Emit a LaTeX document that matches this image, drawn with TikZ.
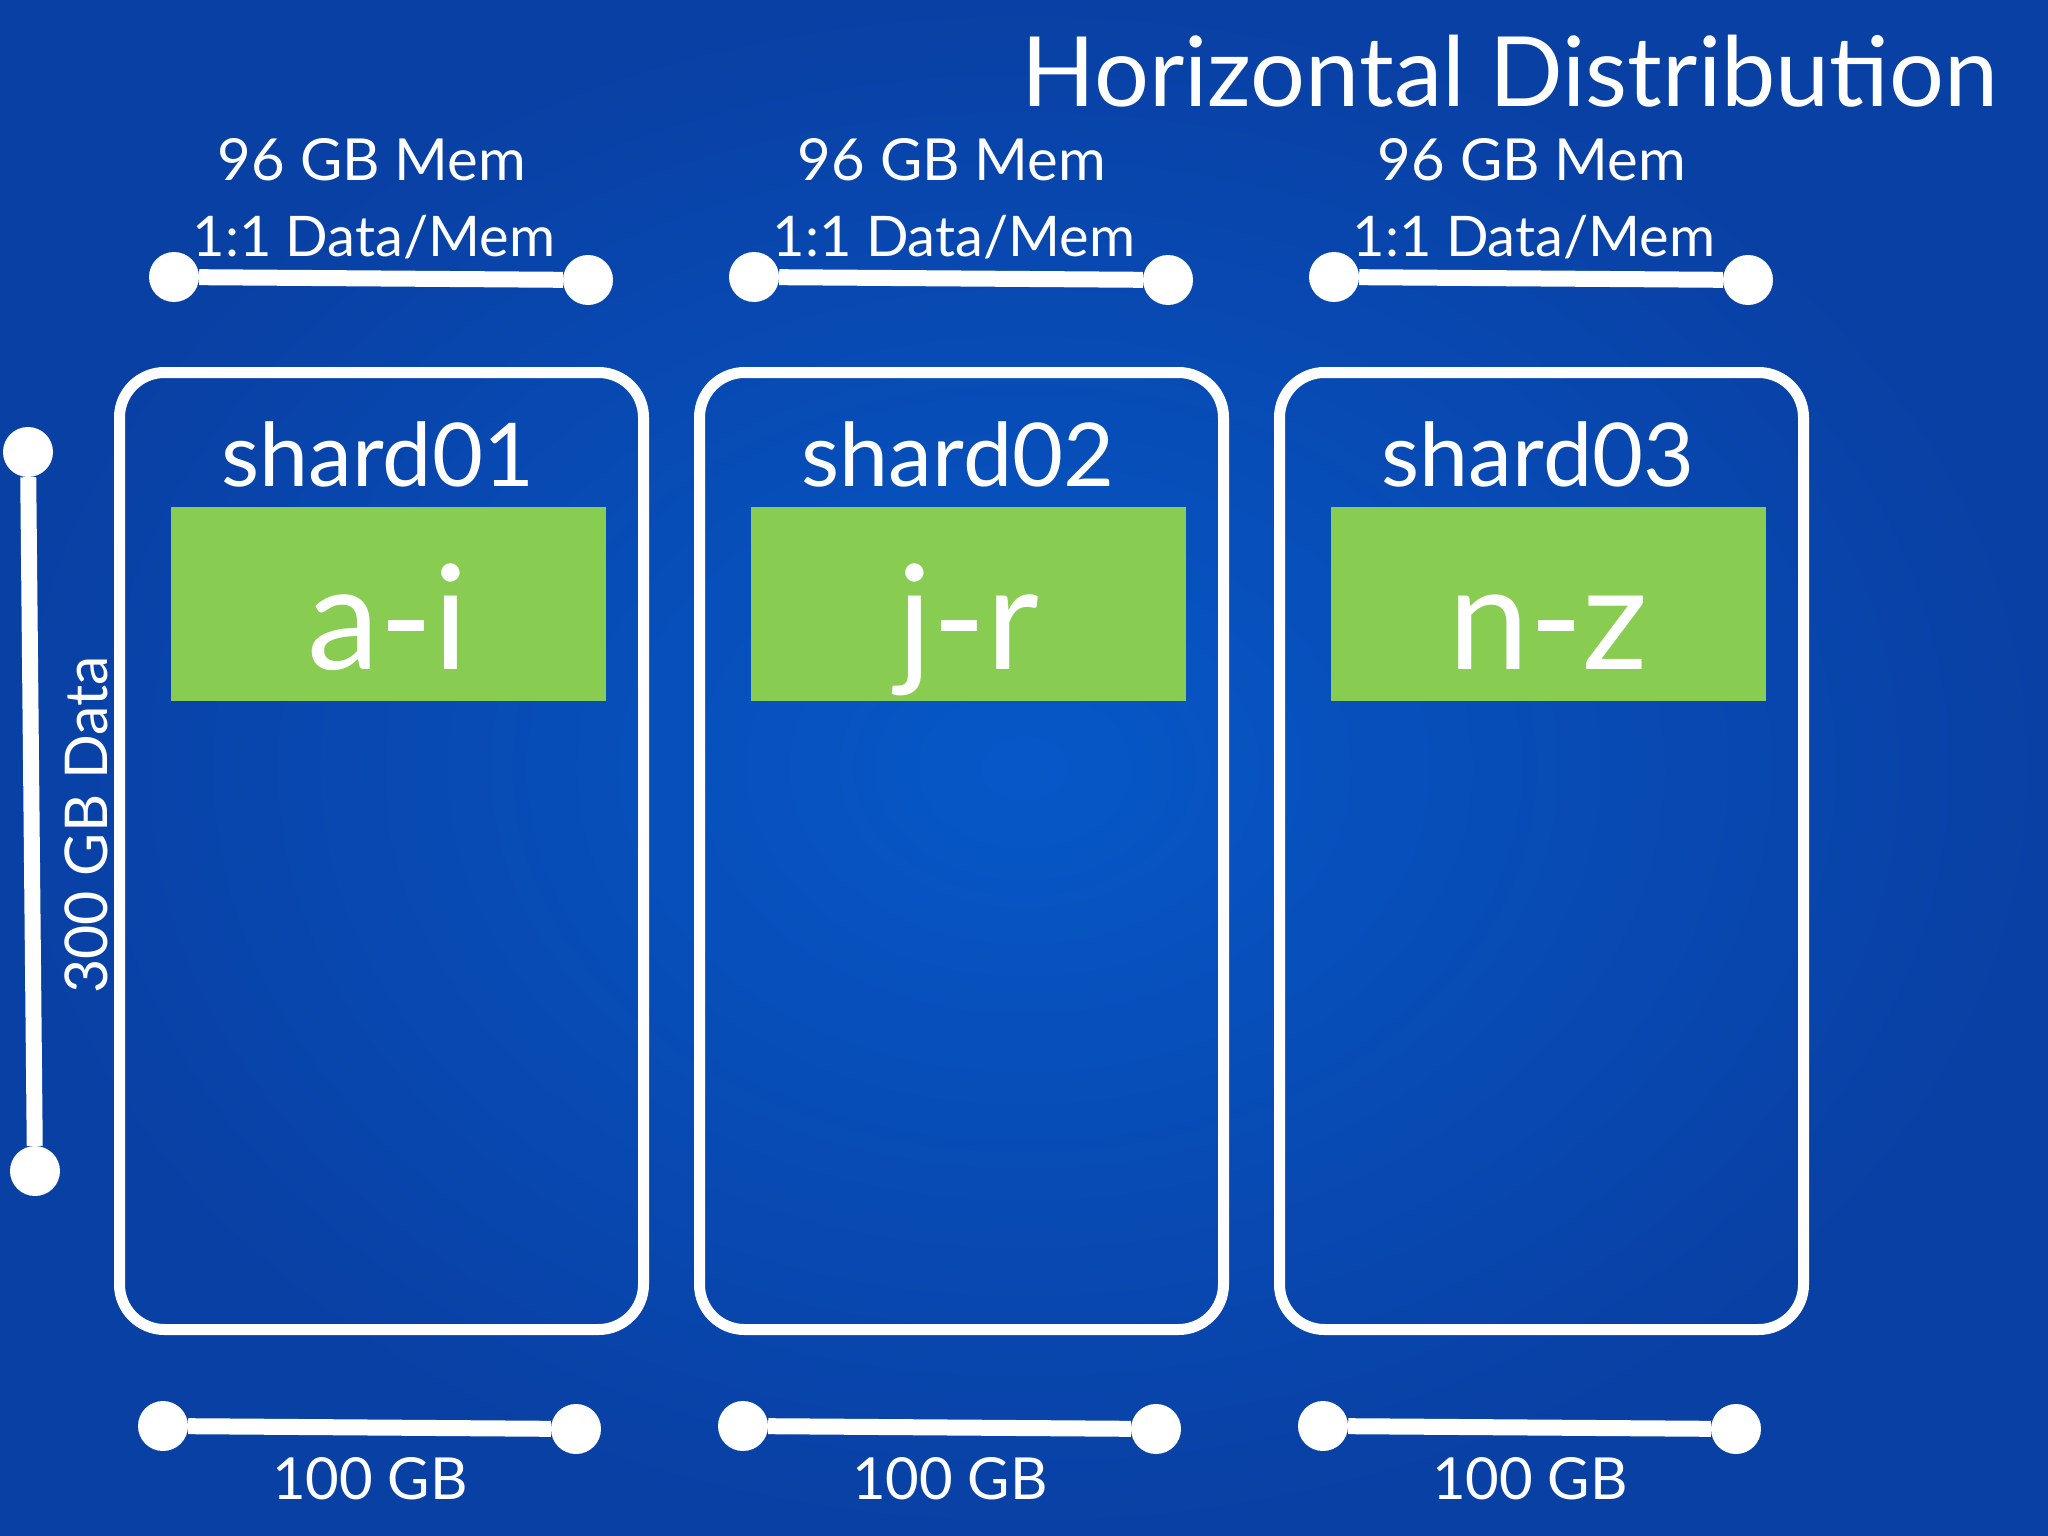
\documentclass[tikz,border=0pt]{standalone}
\usepackage{fontspec}
\setmainfont{Lato}
\definecolor{bgin}{HTML}{0658C8}
\definecolor{bgout}{HTML}{0940A4}
\definecolor{keygreen}{HTML}{88CC52}
\begin{document}
\begin{tikzpicture}[x=1pt,y=-1pt,
  txt/.style={text=white, inner sep=0pt, anchor=base},
  dot/.style={circle, fill=white, minimum size=50pt, inner sep=0pt},
  bar/.style={white, line width=16pt},
  shardbox/.style={draw=white, line width=11pt, rounded corners=45pt, minimum width=524pt, minimum height=957pt, inner sep=0pt},
  keybox/.style={fill=keygreen, minimum width=435pt, minimum height=194pt, inner sep=0pt}]
\useasboundingbox (0,0) rectangle (2048,1536);
\shade[inner color=bgin, outer color=bgout] (0,0) rectangle (2048,1536);
% title
\node[txt, font=\fontsize{97}{100}\selectfont] (title) at (1510,107) {Horizontal Distribution};
% vertical data bar
\node[dot] (vt) at (28,452) {};
\node[dot] (vb) at (35,1171) {};
\draw[bar] (vt) -- (vb);
\node[txt, anchor=center, rotate=90, font=\fontsize{59}{61}\selectfont] (data) at (86,825) {300 GB Data};
\foreach \i/\dx/\nm/\key in {1/0/shard01/a-i, 2/580/shard02/j-r, 3/1160/shard03/n-z}{
  \node[shardbox] (box\i) at (381.5+\dx,851) {};
  \node[keybox] (key\i) at (388.5+\dx,604) {};
  \node[txt, font=\fontsize{88}{90}\selectfont] (name\i) at (378+\dx,486) {\nm};
  \node[txt, font=\fontsize{145}{150}\selectfont] (range\i) at (388+\dx,669) {\key};
  \node[txt, font=\fontsize{58}{60}\selectfont] (mem\i) at (372+\dx,180) {96 GB Mem};
  \node[txt, font=\fontsize{56}{58}\selectfont] (ratio\i) at (374+\dx,256) {1:1 Data/Mem};
  \node[dot] (tl\i) at (174+\dx,277) {};
  \node[dot] (tr\i) at (588+\dx,280) {};
  \draw[bar] (tl\i) -- (tr\i);
  \node[dot] (bl\i) at (163+\dx,1426) {};
  \node[dot] (br\i) at (576+\dx,1429) {};
  \draw[bar] (bl\i) -- (br\i);
  \node[txt, font=\fontsize{58}{60}\selectfont] (size\i) at (370+\dx,1499) {100 GB};
}
\end{tikzpicture}
\end{document}
